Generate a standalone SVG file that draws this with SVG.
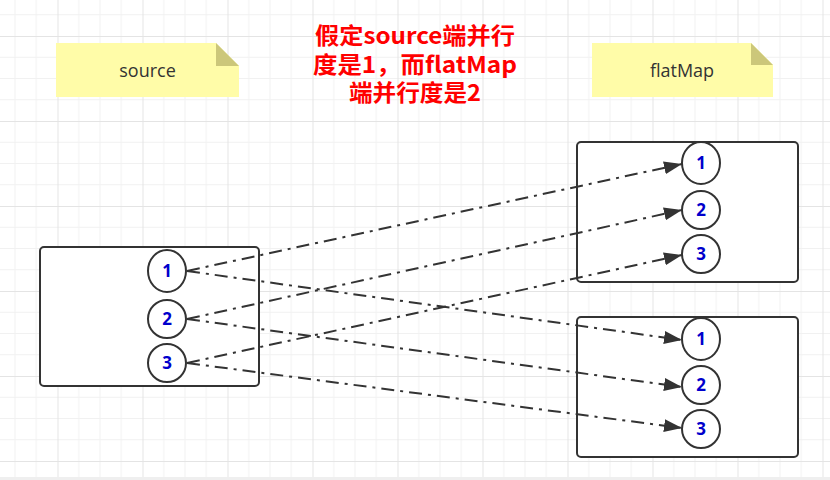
<svg xmlns="http://www.w3.org/2000/svg" width="830" height="480" viewBox="0 0 830 480">
<style>
.box{fill:#fff;stroke:#333;stroke-width:2}
.ell{fill:#fff;stroke:#333;stroke-width:2}
.num{font-family:"Noto Sans","Open Sans",sans-serif;font-weight:bold;font-size:17px;fill:#0000CC;text-anchor:middle}
.note{fill:#FFFCA8}
.fold{fill:#CCC77A}
.ntxt{font-family:"Open Sans","Noto Sans",sans-serif;font-size:18px;fill:#333;text-anchor:middle}
.title{font-family:"Noto Sans CJK SC","Noto Sans",sans-serif;font-weight:bold;font-size:22.5px;fill:#FF0000;text-anchor:middle}
.conn{fill:none;stroke:#333;stroke-width:2;stroke-dasharray:13 6 3 6}
</style>
<defs>
<pattern id="grid" patternUnits="userSpaceOnUse" x="57.5" y="36" width="85" height="85">
<path d="M21.25 0V85M42.5 0V85M63.75 0V85M0 21.25H85M0 42.5H85M0 63.75H85" stroke="#f1f1f1" stroke-width="1" fill="none"/>
<path d="M0.5 0V85M0 0.5H85" stroke="#e4e4e4" stroke-width="1" fill="none"/>
</pattern>
<marker id="arr" markerUnits="userSpaceOnUse" markerWidth="18" markerHeight="13" refX="18" refY="6.5" orient="auto">
<path d="M0 0L18 6.5L0 13Z" fill="#333"/>
</marker>
</defs>
<rect width="830" height="480" fill="#fff"/>
<rect width="830" height="477" fill="url(#grid)"/>
<rect y="477" width="830" height="3" fill="#efefef"/>

<g id="note-source">
<path class="note" d="M56 43H216L239 66V97H56Z"/>
<path class="fold" d="M216 43V66H239Z"/>
<text class="ntxt" x="147.5" y="77">source</text>
</g>
<g id="note-flatmap">
<path class="note" d="M592 43H751L773 65V97H592Z"/>
<path class="fold" d="M751 43V65H773Z"/>
<text class="ntxt" x="682" y="77">flatMap</text>
</g>
<g id="title">
<text class="title" x="415" y="44" textLength="200" lengthAdjust="spacingAndGlyphs">假定source端并行</text>
<text class="title" x="415" y="73" textLength="204" lengthAdjust="spacingAndGlyphs">度是1，而flatMap</text>
<text class="title" x="415" y="101" textLength="132" lengthAdjust="spacingAndGlyphs">端并行度是2</text>
</g>

<g id="source">
<rect class="box" x="40" y="247" width="219" height="139" rx="4"/>
<g id="s1"><ellipse class="ell" cx="167" cy="271" rx="19" ry="21"/><text class="num" x="167" y="277">1</text></g>
<g id="s2"><ellipse class="ell" cx="167" cy="319" rx="19" ry="19"/><text class="num" x="167" y="325">2</text></g>
<g id="s3"><ellipse class="ell" cx="167" cy="363" rx="19" ry="19"/><text class="num" x="167" y="369">3</text></g>
</g>
<g id="flatmap-1">
<rect class="box" x="577" y="142" width="221" height="140" rx="4"/>
<g id="a1"><ellipse class="ell" cx="701" cy="163" rx="19" ry="21"/><text class="num" x="701" y="169">1</text></g>
<g id="a2"><ellipse class="ell" cx="701" cy="210" rx="19" ry="19"/><text class="num" x="701" y="216">2</text></g>
<g id="a3"><ellipse class="ell" cx="701" cy="254" rx="19" ry="19"/><text class="num" x="701" y="260">3</text></g>
</g>
<g id="flatmap-2">
<rect class="box" x="577" y="317" width="221" height="140" rx="4"/>
<g id="b1"><ellipse class="ell" cx="701" cy="339" rx="19" ry="21"/><text class="num" x="701" y="345">1</text></g>
<g id="b2"><ellipse class="ell" cx="701" cy="385" rx="19" ry="19"/><text class="num" x="701" y="391">2</text></g>
<g id="b3"><ellipse class="ell" cx="701" cy="429" rx="19" ry="19"/><text class="num" x="701" y="435">3</text></g>
</g>

<g id="connectors">
<path class="conn" marker-end="url(#arr)" d="M187 271L682 164"/>
<path class="conn" marker-end="url(#arr)" d="M187 319L682 210"/>
<path class="conn" marker-end="url(#arr)" d="M187 363L682 255"/>
<path class="conn" marker-end="url(#arr)" d="M187 271L682 340"/>
<path class="conn" marker-end="url(#arr)" d="M187 319L682 387"/>
<path class="conn" marker-end="url(#arr)" d="M187 363L682 428"/>
</g>
</svg>
